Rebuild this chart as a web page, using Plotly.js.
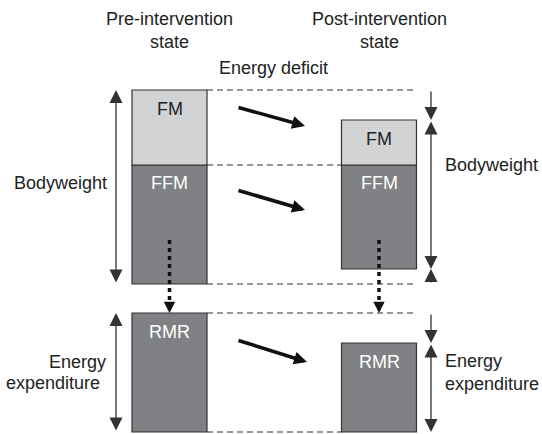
<!DOCTYPE html>
<html>
<head>
<meta charset="utf-8">
<script src="https://cdn.plot.ly/plotly-3.0.1.min.js"></script>
<style>html,body{margin:0;padding:0;background:#fff;}#chart{width:542px;height:434px;}</style>
</head>
<body>
<div id="chart"></div>
<script>
// ---- data ----
const states = ['Pre-intervention', 'Post-intervention'];
const stateLabels = ['Pre-intervention<br>state', 'Post-intervention<br>state'];
const fatMass = [75, 45];
const fatFreeMass = [119, 104];
const restingMetabolicRate = [119, 89];
const segmentLabels = ['FM', 'FFM', 'RMR'];
const deficitLabel = 'Energy deficit';
const weightLabel = 'Bodyweight';
const expenditureWords = ['Energy', 'expenditure'];

// ---- layout geometry ----
const xPos = [169.5, 379];
const barW = 75;
const bwBase = 150;   // baseline of bodyweight panel
const eeBase = 2;     // baseline of energy expenditure panel
const leftArrowX = 116, rightArrowX = 431;
const FONT = '"Liberation Sans", Arial, Helvetica, sans-serif';
const TXT = '#222';
const LIGHT = '#d2d3d5', DARK = '#808184', EDGE = '#333';

const ffmTop = bwBase + fatFreeMass[0];
const ffmBase = fatFreeMass.map(v => ffmTop - v);
const fmTop = fatMass.map(v => ffmTop + v);
const rmrTop = restingMetabolicRate.map(v => eeBase + v);
const left = xPos.map(x => x - barW / 2);
const right = xPos.map(x => x + barW / 2);

const barCommon = {type: 'bar', x: xPos, width: [barW, barW], hoverinfo: 'skip', showlegend: false};
const traces = [
  Object.assign({}, barCommon, {name: 'FFM', y: fatFreeMass, base: ffmBase, marker: {color: DARK, line: {color: EDGE, width: 1.2}}}),
  Object.assign({}, barCommon, {name: 'FM', y: fatMass, base: [ffmTop, ffmTop], marker: {color: LIGHT, line: {color: EDGE, width: 1.2}}}),
  Object.assign({}, barCommon, {name: 'RMR', y: restingMetabolicRate, base: [eeBase, eeBase], marker: {color: DARK, line: {color: EDGE, width: 1.2}}})
];

const shapes = [];
function dashed(y, x0, x1) {
  shapes.push({type: 'line', xref: 'x', yref: 'y', x0: x0, x1: x1, y0: y, y1: y, layer: 'above',
    line: {color: EDGE, width: 1.2, dash: '6px,4px'}});
}
dashed(fmTop[0], right[0], right[1]);
dashed(ffmTop, right[0], left[1]);
dashed(bwBase, right[0], right[1]);
dashed(rmrTop[0], right[0], right[1]);
dashed(eeBase, right[0], left[1]);

// dotted FFM -> RMR link lines
xPos.forEach(x => {
  shapes.push({type: 'line', xref: 'x', yref: 'y', x0: x, x1: x, y0: bwBase + 44, y1: rmrTop[0] + 9, layer: 'above',
    line: {color: '#111', width: 3.5, dash: '4px,4px'}});
});

const annotations = [];
function arrow(x, y, ax, ay, opts) {
  annotations.push(Object.assign({x: x, y: y, ax: ax, ay: ay, xref: 'x', yref: 'y', axref: 'x', ayref: 'y',
    text: '', showarrow: true, arrowhead: 2, arrowsize: 2.0, arrowwidth: 1.3, arrowcolor: '#333',
    standoff: 0, startstandoff: 0}, opts || {}));
}
// thin measuring arrows
arrow(leftArrowX, fmTop[0], leftArrowX, bwBase, {arrowside: 'end+start'});
arrow(leftArrowX, rmrTop[0], leftArrowX, eeBase, {arrowside: 'end+start'});
arrow(rightArrowX, fmTop[1], rightArrowX, fmTop[0]);
arrow(rightArrowX, ffmBase[1], rightArrowX, fmTop[1], {arrowside: 'end+start'});
arrow(rightArrowX, ffmBase[1], rightArrowX, bwBase);
arrow(rightArrowX, rmrTop[1], rightArrowX, rmrTop[0]);
arrow(rightArrowX, eeBase, rightArrowX, rmrTop[1], {arrowside: 'end+start'});
// dotted arrow heads
xPos.forEach(x => arrow(x, rmrTop[0], x, rmrTop[0] + 10, {arrowwidth: 3.5, arrowsize: 0.65, arrowcolor: '#111'}));
// thick change arrows
const thick = {arrowwidth: 3.6, arrowsize: 0.72, arrowcolor: '#111'};
arrow(305, fmTop[0] - 36, 237, fmTop[0] - 17, thick);
arrow(305, ffmTop - 45, 237, ffmTop - 25, thick);
arrow(307, rmrTop[0] - 49, 237, rmrTop[0] - 27, thick);

function label(text, x, y, opts) {
  annotations.push(Object.assign({text: text, x: x, y: y, xref: 'x', yref: 'y', showarrow: false,
    font: {family: FONT, size: 18, color: TXT}, xanchor: 'center', yanchor: 'middle'}, opts || {}));
}
// segment labels
[0, 1].forEach(i => {
  label(segmentLabels[0], xPos[i], fmTop[i], {yshift: -19, font: {family: FONT, size: 18, color: TXT}});
  label(segmentLabels[1], xPos[i], ffmTop, {yshift: -18, font: {family: FONT, size: 18, color: '#fff'}});
  label(segmentLabels[2], xPos[i], rmrTop[i], {yshift: -19, font: {family: FONT, size: 18, color: '#fff'}});
});
// headers
label(stateLabels[0], xPos[0], fmTop[0] + 60);
label(stateLabels[1], xPos[1], fmTop[0] + 60);
label(deficitLabel, 273, fmTop[0] + 22);
// side labels
label(weightLabel, 109, bwBase + 101, {xanchor: 'right'});
label(weightLabel, 443, bwBase + 119, {xanchor: 'left'});
label(expenditureWords[0], 108, eeBase + 70, {xanchor: 'right'});
label(expenditureWords[1], 102, eeBase + 49, {xanchor: 'right'});
label(expenditureWords.join('<br>'), 443, eeBase + 60, {xanchor: 'left', align: 'left'});

const layout = {
  width: 542, height: 434,
  margin: {l: 0, r: 0, t: 0, b: 0},
  paper_bgcolor: '#fff', plot_bgcolor: '#fff',
  xaxis: {range: [0, 542], visible: false, fixedrange: true},
  yaxis: {range: [0, 434], visible: false, fixedrange: true},
  barmode: 'overlay',
  showlegend: false,
  shapes: shapes,
  annotations: annotations,
  font: {family: FONT, color: TXT}
};
Plotly.newPlot('chart', traces, layout, {staticPlot: true, displayModeBar: false});
</script>
</body>
</html>
